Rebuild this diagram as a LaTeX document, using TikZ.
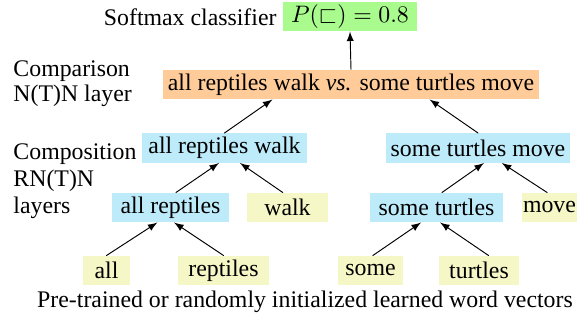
\documentclass[tikz,border=0pt]{standalone}
\usepackage{amsmath}
\usepackage{amssymb}
\usepackage[no-math]{fontspec}
\setmainfont{Liberation Serif}
\usepackage{tikz}
\usetikzlibrary{arrows}

\definecolor{probgreen}{RGB}{168,251,140}
\definecolor{cmporange}{RGB}{255,204,153}
\definecolor{compblue}{RGB}{190,235,250}
\definecolor{wordyellow}{RGB}{245,247,198}

\tikzset{
  box/.style={inner xsep=0pt, inner ysep=0pt, minimum height=12.2pt},
  wordbox/.style={box, fill=wordyellow},
  compbox/.style={box, fill=compblue},
  lbl/.style={inner sep=0pt, align=left}
}

\begin{document}
\begin{tikzpicture}[line cap=round,line join=round,>=latex,x=0.42pt,y=-0.42pt]
\useasboundingbox (0,0) rectangle (586,322);
% classifier and comparison
\node[box, fill=probgreen, minimum width=56.3pt] (prob) at (350,16.5) {$P(\sqsubset) = 0.8$};
\node[lbl, anchor=east] (smlbl) at (277,17) {Softmax classifier};
\node[box, fill=cmporange, minimum width=157.9pt] (cmp) at (351,84.5) {all reptiles walk \textit{vs.} some turtles move};
\node[lbl, anchor=west] (cmplbl) at (13,84) {Comparison\\[-1.5pt]N(T)N layer};
% composition layers
\node[compbox, minimum width=69.3pt] (arw) at (224.5,148) {all reptiles walk};
\node[compbox, minimum width=77.3pt] (stm) at (478,148) {some turtles move};
\node[compbox, minimum width=49.1pt] (ar) at (170.5,207.5) {all reptiles};
\node[compbox, minimum width=55.9pt] (st) at (436.5,207.5) {some turtles};
\node[wordbox, minimum width=34pt] (walk) at (287.5,207.5) {walk};
\node[wordbox, minimum width=23.1pt] (move) at (549.5,207.5) {move};
\node[lbl, anchor=west] (comlbl) at (13,181) {Composition\\[-0.7pt]RN(T)N\\[-0.7pt]layers};
% word vectors
\node[wordbox, minimum width=19.7pt] (all) at (106.5,270.5) {all};
\node[wordbox, minimum width=38.2pt] (reptiles) at (223.5,270.5) {reptiles};
\node[wordbox, minimum width=27.3pt] (some) at (370.5,270.5) {some};
\node[wordbox, minimum width=33.6pt] (turtles) at (479,270.5) {turtles};
\node[lbl] (veclbl) at (305,302) {Pre-trained or randomly initialized learned word vectors};
% arrows
\draw[->] (all.north) -- ([xshift=-5.5pt]ar.south);
\draw[->] (reptiles.north) -- ([xshift=1.5pt]ar.south);
\draw[->] ([xshift=1pt]some.north) -- ([xshift=-6.5pt]st.south);
\draw[->] ([xshift=4pt]turtles.north) -- ([xshift=1.5pt]st.south);
\draw[->] ([xshift=2.3pt]ar.north) -- ([xshift=-2.3pt]arw.south);
\draw[->] ([xshift=-2pt]walk.north) -- ([xshift=6.5pt]arw.south);
\draw[->] ([xshift=2.3pt]st.north) -- ([xshift=2.5pt]stm.south);
\draw[->] ([xshift=-1pt]move.north) -- ([xshift=10pt]stm.south);
\draw[->] (arw.north) -- ([xshift=-33pt]cmp.south);
\draw[->] (stm.north) -- ([xshift=33pt]cmp.south);
\draw[->] (cmp.north) -- (prob.south);
\end{tikzpicture}
\end{document}
